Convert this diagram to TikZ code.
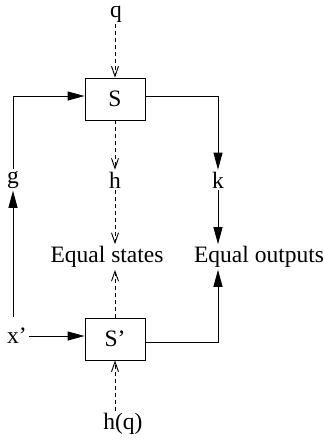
\documentclass[tikz,border=0pt]{standalone}
\usepackage{fontspec}
\setmainfont{Liberation Serif}
\usetikzlibrary{arrows.meta}
\begin{document}
\begin{tikzpicture}[x=1pt,y=-1pt,
  lab/.style={font=\fontsize{23.5}{28}\selectfont, inner sep=2pt},
  blk/.style={draw, line width=0.9pt, minimum width=60pt, minimum height=42pt, inner sep=0pt, font=\fontsize{23.5}{28}\selectfont},
  sarr/.style={line width=0.9pt, -{Triangle[length=17pt,width=9pt]}},
  darr/.style={line width=0.9pt, dash pattern=on 4pt off 3pt, -{Straight Barb[length=10pt,width=7pt]}},
  sline/.style={line width=0.9pt}]
\useasboundingbox (0,0) rectangle (324,440);
% nodes
\node[lab] (q) at (116,14) {q};
\node[blk] (S) at (115,99) {S};
\node[lab] (g) at (13,180) {g};
\node[lab] (h) at (115,180) {h};
\node[lab] (k) at (218,180) {k};
\node[lab] (es) at (107,257) {Equal states};
\node[lab] (eo) at (259,257) {Equal outputs};
\node[blk] (Sp) at (115,339) {S’};
\node[lab] (xp) at (17,336) {x’};
\node[lab] (hq) at (123,424) {h(q)};
\coordinate (tl) at (13,96);
\coordinate (tr) at (218,96);
\coordinate (bl) at (13,317);
\coordinate (br) at (218,342);
% connectors
\draw[darr] (q.south -| S.north) -- (S.north);
\draw[sarr] (g.north) -- (tl) -- ([yshift=3pt]S.west);
\draw[sarr] ([yshift=3pt]S.east) -- (tr) -- (k.north);
\draw[darr] (S.south) -- (h.north);
\draw[darr] (h.south) -- (h.south |- es.north);
\draw[sarr] (k.south) -- (k.south |- eo.north);
\draw[sarr] (bl) -- (g.south);
\draw[sarr] (xp.east) -- (xp.east -| Sp.west);
\draw[darr] (Sp.north) -- (Sp.north |- es.south);
\draw[darr] (hq.north -| Sp.south) -- (Sp.south);
\draw[sarr] ([yshift=-3pt]Sp.east) -- (br) -- (br |- eo.south);
\end{tikzpicture}
\end{document}
